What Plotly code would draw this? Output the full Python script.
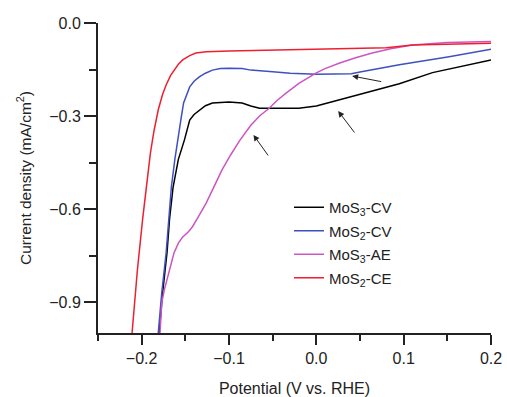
import plotly.graph_objects as go

# ---- data ----
mos3_cv_x = [-0.180, -0.176, -0.171, -0.168, -0.164, -0.158, -0.151, -0.148, -0.145, -0.140, -0.134, -0.127, -0.119,
             -0.100, -0.085, -0.075, -0.065, -0.020, 0.000, 0.026, 0.050, 0.072, 0.095, 0.133, 0.165, 0.200]
mos3_cv_y = [-1.000, -0.870, -0.742, -0.630, -0.529, -0.440, -0.377, -0.340, -0.313, -0.295, -0.281, -0.267, -0.258,
             -0.255, -0.258, -0.268, -0.275, -0.275, -0.268, -0.248, -0.232, -0.215, -0.196, -0.160, -0.140, -0.119]

mos2_cv_x = [-0.181, -0.177, -0.172, -0.169, -0.166, -0.162, -0.159, -0.155, -0.152, -0.148, -0.145, -0.140, -0.134,
             -0.127, -0.119, -0.110, -0.100, -0.085, -0.075, -0.050, -0.030, 0.000, 0.040, 0.050, 0.095, 0.152, 0.200]
mos2_cv_y = [-1.000, -0.870, -0.742, -0.630, -0.529, -0.440, -0.377, -0.310, -0.258, -0.225, -0.206, -0.188, -0.174,
             -0.162, -0.152, -0.147, -0.146, -0.147, -0.152, -0.157, -0.162, -0.165, -0.164, -0.158, -0.135, -0.109, -0.085]

mos3_ae_x = [-0.179, -0.178, -0.177, -0.174, -0.171, -0.167, -0.163, -0.158, -0.153, -0.147, -0.142, -0.134, -0.126,
             -0.117, -0.108, -0.098, -0.088, -0.075, -0.065, -0.054, -0.045, -0.035, -0.020, 0.000, 0.010, 0.026,
             0.045, 0.064, 0.085, 0.110, 0.150, 0.200]
mos3_ae_y = [-1.000, -0.950, -0.903, -0.860, -0.829, -0.785, -0.742, -0.710, -0.690, -0.675, -0.658, -0.620, -0.580,
             -0.527, -0.474, -0.425, -0.380, -0.330, -0.300, -0.275, -0.250, -0.227, -0.195, -0.161, -0.147, -0.130,
             -0.112, -0.097, -0.083, -0.071, -0.063, -0.060]

mos2_ce_x = [-0.211, -0.205, -0.199, -0.194, -0.190, -0.186, -0.181, -0.176, -0.172, -0.167, -0.163, -0.158, -0.153,
             -0.145, -0.138, -0.126, -0.100, -0.050, 0.000, 0.050, 0.080, 0.110, 0.150, 0.200]
mos2_ce_y = [-1.000, -0.800, -0.635, -0.520, -0.420, -0.350, -0.280, -0.230, -0.200, -0.170, -0.152, -0.133, -0.119,
             -0.105, -0.097, -0.093, -0.090, -0.087, -0.085, -0.082, -0.080, -0.071, -0.068, -0.065]

series_names = ["MoS<sub>3</sub>-CV", "MoS<sub>2</sub>-CV", "MoS<sub>3</sub>-AE", "MoS<sub>2</sub>-CE"]
series_colors = ["#000000", "#3f51bf", "#cc55c4", "#ee2030"]

# arrows: (head_x, head_y, tail_x, tail_y)
arrows = [
    (0.041, -0.171, 0.076, -0.190),
    (0.025, -0.284, 0.045, -0.358),
    (-0.072, -0.361, -0.054, -0.432),
]

xs = [mos3_cv_x, mos2_cv_x, mos3_ae_x, mos2_ce_x]
ys = [mos3_cv_y, mos2_cv_y, mos3_ae_y, mos2_ce_y]

fig = go.Figure()
for i, (x, y, n, c) in enumerate(zip(xs, ys, series_names, series_colors)):
    fig.add_trace(go.Scatter(x=x, y=y, mode="lines", name=n, legendgroup=f"g{i}",
                             line=dict(color=c, width=1.5)))

for hx, hy, tx, ty in arrows:
    fig.add_annotation(x=hx, y=hy, ax=tx, ay=ty, xref="x", yref="y",
                       axref="x", ayref="y", showarrow=True, text="",
                       arrowhead=2, arrowsize=1.2, arrowwidth=1, arrowcolor="#222")

axis_color = "#222"
fig.update_layout(
    width=507, height=397, autosize=False,
    margin=dict(l=98, r=16, t=23, b=64),
    paper_bgcolor="white", plot_bgcolor="white",
    font=dict(family="Liberation Sans, Arial, sans-serif", size=15, color="#222"),
    showlegend=True,
    legend=dict(x=0.486, y=0.458, xanchor="left", yanchor="top",
                bgcolor="rgba(0,0,0,0)", font=dict(size=15),
                tracegroupgap=1),
    xaxis=dict(range=[-0.25, 0.2], showgrid=False, zeroline=False, automargin=False,
               showline=True, linecolor=axis_color, linewidth=2,
               ticks="outside", ticklen=10, tickwidth=2, tickcolor=axis_color,
               tick0=-0.2, dtick=0.1, tickformat=".1f",
               tickfont=dict(size=16),
               minor=dict(ticks="outside", ticklen=6, tickwidth=2, tickcolor=axis_color,
                          tick0=-0.25, dtick=0.05, showgrid=False),
               title=dict(text="Potential (V vs. RHE)", font=dict(size=16), standoff=17)),
    yaxis=dict(range=[-1.0, 0.0], showgrid=False, zeroline=False, automargin=False,
               showline=True, linecolor=axis_color, linewidth=2,
               ticks="outside", ticklen=12, tickwidth=2, tickcolor=axis_color,
               tick0=0, dtick=0.3, tickformat=".1f",
               tickfont=dict(size=16),
               minor=dict(ticks="outside", ticklen=7, tickwidth=2, tickcolor=axis_color,
                          tick0=0, dtick=0.15, showgrid=False),
               title=dict(text="Current density (mA/cm<sup>2</sup>)", font=dict(size=15.5), standoff=14)),
)

fig.write_html("out.html", config={"displayModeBar": False},
               post_script="document.body.style.margin='0';")
